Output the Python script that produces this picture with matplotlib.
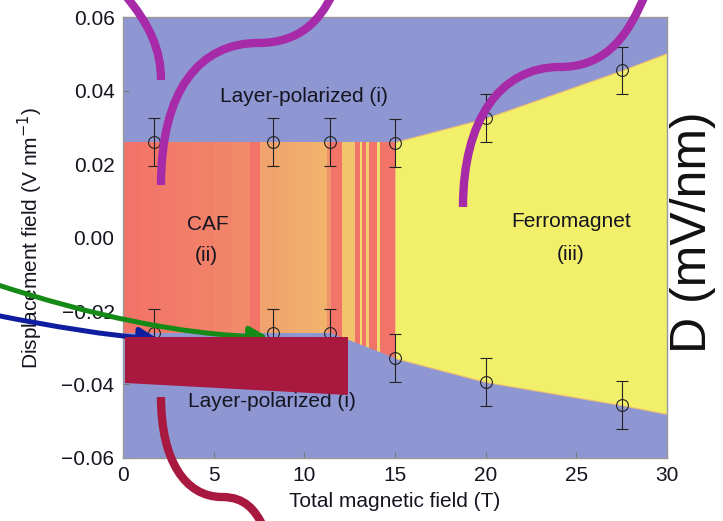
import matplotlib
matplotlib.use("Agg")
import matplotlib.pyplot as plt
import numpy as np
from matplotlib.path import Path
from matplotlib.patches import PathPatch, Polygon, FancyArrowPatch
from matplotlib.colors import LinearSegmentedColormap

plt.rcParams['font.family'] = ['Liberation Sans', 'DejaVu Sans']

# phase boundaries (T, V/nm)
upper_B = [0, 15, 20, 27.5, 30]
upper_D = [0.026, 0.026, 0.0325, 0.0455, 0.0502]
lower_B = [0, 11.5, 15, 20, 27.5, 30]
lower_D = [-0.026, -0.026, -0.0328, -0.0393, -0.0456, -0.048]

# measured transition points with error bars
pts_B = [1.7, 8.3, 11.4, 15.0, 20.0, 27.5]
pts_upper = [0.026, 0.026, 0.026, 0.0257, 0.0325, 0.0455]
pts_lower = [-0.026, -0.026, -0.026, -0.0328, -0.0393, -0.0456]
pts_err = [0.0065, 0.0065, 0.0065, 0.0065, 0.0065, 0.0065]

# CAF stripes: edges in B, colour value (0 = salmon, 1 = yellow)
caf_edges = [0, 1, 2, 3, 4, 5, 6, 7.0, 7.55, 8.5, 9.5, 10.5, 11.25, 11.5,
             12.1, 12.8, 13.07, 13.2, 13.4, 13.57, 14.0, 14.2, 15.0]
caf_vals = [0.0, 0.03, 0.06, 0.09, 0.12, 0.16, 0.2, 0.0, 0.45, 0.5, 0.55,
            0.6, 0.3, 0.0, 0.78, 0.0, 1.0, 0.0, 0.85, 0.0, 1.0, 0.0]

# hand-drawn overlay strokes (figure pixels)
purple_strokes = [
    [(125, -5), (150, 25), (161, 50), (161, 80)],
    [(161, 185), (161, 90), (200, 43), (258, 43), (300, 43), (320, 20), (332, -5)],
    [(463, 207), (463, 120), (500, 67), (560, 67), (610, 67), (630, 30), (645, -5)],
]
crimson_stroke = [(161, 397), (161, 460), (185, 497), (222, 497),
                  (245, 497), (255, 510), (263, 526)]
crimson_box = [(125, 337), (348, 337), (348, 395), (125, 383)]
green_arrow = [(-5, 284), (90, 315), (180, 335), (268, 337)]
blue_arrow = [(-5, 315), (50, 326), (110, 336), (158, 339)]

blue = '#8F97D3'
yellow = '#F2F06A'
purple = '#A72BA8'
crimson = '#A8183F'
ink = '#151520'

fig = plt.figure(figsize=(7.23, 5.21), dpi=100)
ax = fig.add_axes([0.170, 0.121, 0.7525, 0.846])
ax.set_facecolor(blue)
ax.set_xlim(0, 30)
ax.set_ylim(-0.06, 0.06)

# ferromagnet region
fm_B = np.array([15, 20, 27.5, 30])
ax.fill_between(fm_B, np.interp(fm_B, lower_B, lower_D),
                np.interp(fm_B, upper_B, upper_D), color=yellow, lw=0.8,
                edgecolor='#F0C070', zorder=1)

# CAF region with stripes, clipped to the phase outline
cmap = LinearSegmentedColormap.from_list(
    'caf', [(0, '#F27468'), (0.5, '#F0A86C'), (1, '#F3DC6E')])
mesh = ax.pcolormesh(caf_edges, [-0.05, 0.03], np.array([caf_vals]),
                     cmap=cmap, vmin=0, vmax=1, zorder=2, antialiased=False)
caf_outline = [(0, 0.026), (15, 0.026)] + \
    [(b, d) for b, d in zip(lower_B, lower_D) if b <= 15][::-1]
clip = Polygon(caf_outline, closed=True, transform=ax.transData)
mesh.set_clip_path(clip)

for ys in (pts_upper, pts_lower):
    ax.errorbar(pts_B, ys, yerr=pts_err, fmt='o', mfc='none', mec='#222222',
                ms=8.5, mew=0.8, ecolor='#222222', elinewidth=0.8,
                capsize=4, capthick=0.8, zorder=4)

txt = dict(fontsize=15, color=ink, ha='center', va='center', zorder=5)
ax.text(10, 0.0385, 'Layer-polarized (i)', **txt)
ax.text(8.2, -0.0445, 'Layer-polarized (i)', **txt)
ax.text(4.7, 0.0035, 'CAF', **txt)
ax.text(4.6, -0.0050, '(ii)', **txt)
ax.text(24.7, 0.0045, 'Ferromagnet', **txt)
ax.text(24.7, -0.0045, '(iii)', **txt)

ax.set_xticks([0, 5, 10, 15, 20, 25, 30])
ax.set_yticks([-0.06, -0.04, -0.02, 0.0, 0.02, 0.04, 0.06])
ax.set_yticklabels(['\u22120.06', '\u22120.04', '\u22120.02', '0.00',
                    '0.02', '0.04', '0.06'])
ax.tick_params(direction='in', length=4, width=0.8, color='#777777',
               labelsize=15, labelcolor=ink, pad=6)
for s in ax.spines.values():
    s.set_color('#999999')
    s.set_linewidth(1.0)
ax.set_xlabel('Total magnetic field (T)', fontsize=15, color=ink,
              labelpad=5)
ax.set_ylabel('Displacement field (V nm$^{-1}$)', fontsize=15,
              color=ink, labelpad=12)

# overlay in figure pixels
ov = fig.add_axes([0, 0, 1, 1], zorder=10)
ov.set_xlim(0, 723)
ov.set_ylim(521, 0)
ov.axis('off')
ov.patch.set_alpha(0)


def bezier_path(pts):
    codes = [Path.MOVETO] + [Path.CURVE4] * (len(pts) - 1)
    return Path(pts, codes)


for stroke in purple_strokes:
    ov.add_patch(PathPatch(bezier_path(stroke), fc='none', ec=purple, lw=6,
                           capstyle='butt'))
for pts, col in ((green_arrow, '#168A16'), (blue_arrow, '#0E1E9E')):
    ov.add_patch(FancyArrowPatch(path=bezier_path(pts),
                                 arrowstyle='-|>,head_length=0.55,head_width=0.3',
                                 mutation_scale=20, color=col, lw=3.6))
ov.add_patch(Polygon(crimson_box, closed=True, fc=crimson, ec='none'))
ov.add_patch(PathPatch(bezier_path(crimson_stroke), fc='none', ec=crimson,
                       lw=6, capstyle='butt'))
ov.text(693, 232, 'D (mV/nm)', rotation=90, fontsize=36, ha='center',
        va='center', color='#111111')

fig.savefig('out.png', dpi=100)
